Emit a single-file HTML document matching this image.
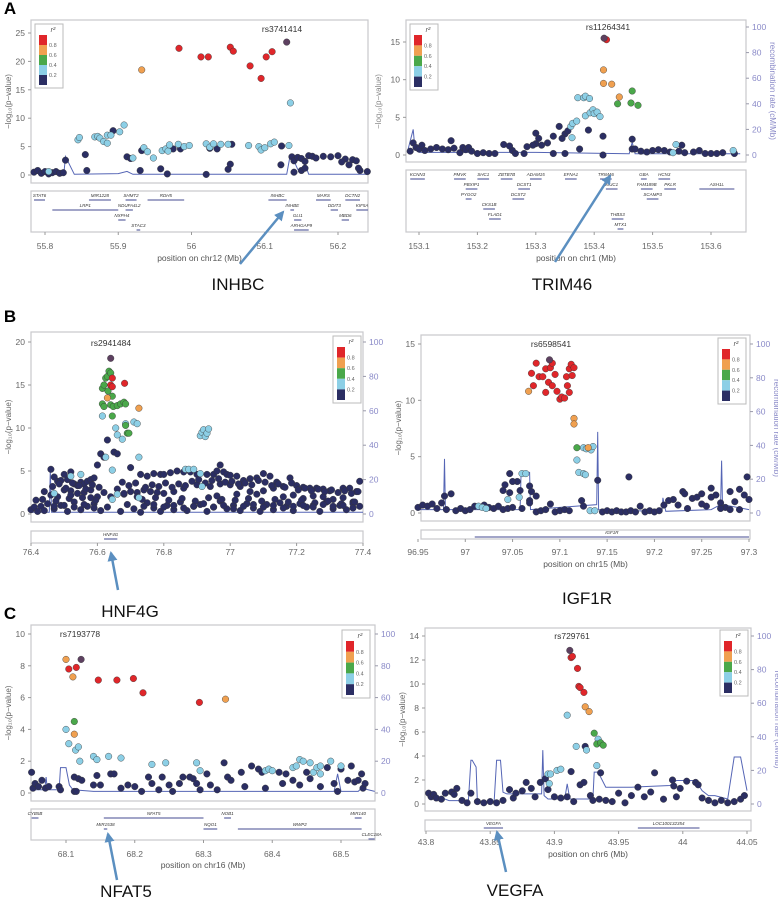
<!DOCTYPE html>
<html><head><meta charset="utf-8">
<style>
html,body{margin:0;padding:0;background:#fff;}
svg{display:block;font-family:"Liberation Sans",sans-serif;}
.big{font-family:"Liberation Sans Narrow","Liberation Sans",sans-serif;}
</style></head>
<body>
<svg id="fig" width="778" height="898" viewBox="0 0 778 898"></svg>
<script>
// ===== Panel A left (chr12) =====
const aL_dark_pos=[55.785,55.79,55.795,55.8,55.805,55.81,55.815,55.82,55.825,55.828,55.855,55.857,55.893,55.912,55.917,55.932,55.93,55.958,55.967,55.975,55.985,56.02,56.025,56.035,56.05,56.053,56.055,56.122,56.123,56.137,56.14,56.145,56.15,56.155,56.16,56.165,56.17,56.18,56.19,56.2,56.21,56.22,56.225,56.23,56.24,56.205,56.215,56.228,56.14,56.15,56.155];
const aL_dark_logp=[0.5,0.8,0.3,0.6,0.2,0.4,0.6,0.3,0.4,2.6,3.6,0.8,7.8,3.2,2.9,4.3,0.8,1.1,0.2,4.6,4.6,0.1,4.7,4.6,1,1.9,5.4,1.8,5.1,3.2,2.5,3.1,2.9,2.4,3.4,3.3,3,3.3,3.2,3.4,2.8,2.7,2.5,0.8,0.6,2.3,1.8,1.2,0.5,0.8,1.2];
const aL_lb_pos=[55.845,55.847,55.868,55.872,55.875,55.88,55.885,55.885,55.89,55.902,55.908,55.92,55.935,55.94,55.948,55.96,55.965,55.968,55.97,55.982,55.99,55.997,56.02,56.025,56.03,56.04,56.05,56.078,56.092,56.095,56.1,56.108,56.113,56.133,56.135,55.805];
const aL_lb_logp=[6.2,6.6,6.7,6.8,6.5,5.9,7,5.6,7,7.6,8.8,3,4.8,4.1,3,4.3,4.6,4.2,5.3,5.4,5,5.2,5.5,4.9,5.5,5.4,5.4,5.2,5,4.4,4.8,5.5,5.8,5.2,12.7,0.6];
const aL_or_pos=[55.932], aL_or_logp=[18.5];
const aL_red_pos=[55.983,56.013,56.023,56.053,56.057,56.08,56.095,56.102,56.11];
const aL_red_logp=[22.3,20.8,20.8,22.5,21.8,19.2,17,20.8,21.7];
const aL_lead_pos=[56.13], aL_lead_logp=[23.4];
const aL_rec_pos=[55.781,55.826,55.828,55.84,55.9,55.912,55.92,56.13,56.134,56.14,56.145,56.15,56.155,56.16,56.241];
const aL_rec_rate=[1,2,13,0.5,1,2.5,0.5,0.5,12,10,4,2,8,0.5,0.5];
const aL_xticks=[55.8,55.9,56,56.1,56.2];
const aL_yticks=[0,5,10,15,20,25];

// ===== Panel A right (chr1) =====
const aR_dark_pos=[153.39,153.415,153.415,153.465,153.465,153.33,153.34,153.35,153.355,153.345,153.32,153.3,153.3,153.305,153.295,153.285,153.31,153.26,153.265,153.28,153.255,153.35,153.375,153.33,153.085,153.09,153.095,153.1,153.105,153.11,153.12,153.13,153.14,153.15,153.155,153.16,153.17,153.175,153.18,153.185,153.19,153.2,153.21,153.22,153.23,153.47,153.48,153.49,153.5,153.51,153.52,153.53,153.545,153.55,153.555,153.57,153.58,153.59,153.6,153.61,153.62,153.64,153.245];
const aR_dark_logp=[3.3,2.5,0,2.1,0.8,2.5,3.8,2.8,3.2,2.2,1.6,2.9,1.5,2.2,1.3,1.1,1.3,0.6,0.2,0.2,1.2,0.2,0.8,0.2,0.5,1.6,1,0.8,1.3,0.6,0.8,1,0.8,0.7,1.9,0.9,0.3,1,0.7,1,0.5,0.2,0.3,0.2,0.2,0.8,0.5,0.4,0.6,0.7,0.6,0.4,0.5,1.3,0.3,0.4,0.6,0.2,0.2,0.2,0.3,0.2,1.4];
const aR_lb_pos=[153.372,153.382,153.385,153.392,153.385,153.393,153.398,153.4,153.405,153.41,153.36,153.363,153.37,153.362,153.54,153.535,153.638];
const aR_lb_logp=[7.6,7.6,7.8,7.5,5.2,5.6,6,5.5,5.7,5.1,3.8,4.2,4.5,2.3,1.4,0.3,0.6];
const aR_gr_pos=[153.465,153.44,153.463,153.475], aR_gr_logp=[8.5,6.8,6.9,6.6];
const aR_or_pos=[153.416,153.416,153.43,153.443], aR_or_logp=[11.3,9.5,9.4,7.7];
const aR_red_pos=[153.421], aR_red_logp=[15.3];
const aR_lead_pos=[153.417], aR_lead_logp=[15.5];
const aR_rec_pos=[153.08,153.09,153.093,153.1,153.3,153.46,153.465,153.47,153.65];
const aR_rec_rate=[2,20,5,2,2,1,10,1,1];
const aR_xticks=[153.1,153.2,153.3,153.4,153.5,153.6];
const aR_yticks=[0,5,10,15];

// ===== Panel B left (HNF4G) =====
const bL_dark_pos=[76.46,76.47,76.48,76.49,76.5,76.51,76.52,76.53,76.54,76.55,76.56,76.57,76.58,76.59,76.6,76.61,76.62,76.63,76.65,76.66,76.7,76.73,76.75,76.77,76.79,76.8,76.82,76.84,76.86,76.88,76.9,76.93,76.95,76.96,76.97,76.98,76.99,77,77.02,77.04,77.06,77.08,77.1,77.12,77.14,77.16,77.18,77.2,77.22,77.24,77.26,77.28,77.3,77.34,77.36,77.38,77.39,
76.46,76.48,76.5,76.52,76.54,76.56,76.58,76.6,76.62,76.66,76.68,76.7,76.72,76.74,76.76,76.78,76.8,76.83,76.86,76.9,76.94,76.97,77,77.03,77.06,77.08,77.1,77.13,77.16,77.19,77.22,77.25,77.28,77.31,77.34,77.37,
76.4,76.41,76.42,76.43,76.44,76.45,76.47,76.49,76.51,76.53,76.55,76.57,76.59,76.61,76.63,76.67,76.69,76.71,76.73,76.75,76.77,76.79,76.81,76.83,76.85,76.87,76.89,76.91,76.93,76.95,76.97,76.99,77.01,77.03,77.05,77.07,77.09,77.11,77.13,77.15,77.17,77.19,77.21,77.23,77.25,77.27,77.29,77.31,77.33,77.35,77.37,77.39,
76.415,76.435,76.475,76.515,76.555,76.595,76.735,76.775,76.815,76.855,76.895,76.935,76.975,77.015,77.055,77.095,77.135,77.175,77.215,77.255,77.295,77.335,77.375];
const bL_dark_logp=[5.2,4.3,3.8,3.9,4.6,4,4.9,3.5,3.3,3.7,3.5,3.8,4,4.2,5.7,7,6.6,8.6,7.2,7,5.4,4.6,4.4,4.7,4.6,4.6,4.8,5,4.9,4.9,4.6,4.6,4.6,5,5.7,4.9,4.6,4.5,4.4,3.9,4.1,4.2,4.7,4.4,3.7,3.2,4.2,3.3,3.1,3,3,2.9,2.7,3,3,2.6,3.8,
2.2,2,2.8,2.7,2.4,2.5,2.8,2,2.5,2.9,2.3,2.6,2.5,2.8,2.6,2.5,2.4,2.6,3,3.4,3.2,3.5,3.4,3.2,2.6,2.3,2.7,3,2,2.2,1.8,2.1,2,1.7,1.9,1.4,
0.5,0.8,0.3,0.9,0.4,1.2,0.6,1,0.3,1.4,0.5,0.9,1.2,0.4,0.8,0.3,1.1,0.6,0.2,1.3,0.7,0.3,1,0.5,1.4,0.4,0.9,1.1,0.3,0.8,1.5,0.6,1,0.4,1.2,0.7,0.3,1.1,0.5,1.3,0.9,0.4,1.2,0.8,1,0.3,1.4,0.6,1,0.5,1.2,0.9,
1.6,1.7,1.5,1.8,1.9,1.6,1.7,1.9,1.6,1.8,1.5,1.9,1.7,1.6,1.8,1.5,1.7,1.4,1.6,1.3,1.5,1.2,1.4];
const bL_dark2_pos=[76.465,76.485,76.505,76.525,76.545,76.565,76.585,76.605,76.675,76.695,76.715,76.745,76.765,76.785,76.805,76.825,76.845,76.865,76.885,76.905,76.925,76.945,76.965,76.985,77.005,77.025,77.045,77.065,77.085,77.105,77.125,77.145,77.165,77.185,77.205,77.225,77.245,77.265,77.285,77.305,77.325,77.345,77.365,77.385,
76.47,76.5,76.53,76.56,76.59,76.74,76.77,76.8,76.83,76.86,76.89,76.92,76.95,76.98,77.01,77.04,77.07,77.1,77.13,77.16,77.19,77.22,77.25,77.28,77.31,77.34,77.37,76.44,76.52,76.58,76.64,76.68,76.72,76.96,77.02];
const bL_dark2_logp=[3.2,3.5,3.0,3.6,3.3,2.9,3.4,3.1,3.7,3.3,3.6,3.1,3.4,3.2,3.6,3.1,3.5,3.3,3.8,4.0,3.6,3.9,4.1,3.7,3.8,3.5,3.6,3.4,3.9,3.7,3.3,3.5,3.1,3.6,2.8,3.0,2.7,2.9,2.6,2.8,2.5,2.7,2.4,2.6,
0.9,1.0,0.8,1.1,0.7,0.9,1.1,0.8,1.0,0.7,0.9,1.2,0.8,1.0,0.6,0.9,1.1,0.8,1.0,0.7,0.9,1.0,0.8,1.1,0.9,1.0,0.7,2.6,2.2,1.9,2.0,2.4,2.0,2.1,2.3];
const bL_lb_pos=[76.615,76.655,76.66,76.675,76.685,76.71,76.72,76.625,76.645,76.725,76.91,76.915,76.92,76.925,76.93,76.935,76.865,76.875,76.89,76.91,76.915,76.52,76.55,76.66,76.645,76.725,76.47];
const bL_lb_logp=[11.4,10,9.2,8.7,10.5,10.7,10.5,6.6,5.1,6.6,9.1,9.5,9.8,9,9.4,9.9,5.2,5.2,5.2,4.7,3.2,4.4,4.6,2.3,1.7,1.9,2.4];
const bL_gr_pos=[76.615,76.62,76.625,76.63,76.635,76.64,76.632,76.615,76.62,76.64,76.648,76.645,76.66,76.67,76.68,76.685,76.645,76.69,76.695,76.685];
const bL_gr_logp=[14.6,15,15.8,16,16.6,16.4,14.3,12.8,12.5,12.7,12.5,13.7,12.6,12.8,13,12.8,11.4,9.4,9.4,10.3];
const bL_or_pos=[76.725,76.63], bL_or_logp=[12.3,13.5];
const bL_red_pos=[76.645,76.64,76.645,76.682], bL_red_logp=[15.8,15,14.8,15.2];
const bL_lead_pos=[76.64], bL_lead_logp=[18.1];
const bL_rec_pos=[76.4,76.455,76.458,76.462,77.4];
const bL_rec_rate=[1,1,25,1,1];
const bL_xticks=[76.4,76.6,76.8,77,77.2,77.4];
const bL_yticks=[0,5,10,15,20];

// ===== Panel B right (IGF1R) =====
const bR_dark_pos=[97.14,97.173,97.298,97.123,97.125,97.055,97.05,97.047,97.042,97.04,97.058,97.068,97.07,97.075,97.068,97.068,97.047,97.09,97.23,97.232,97.24,97.245,97.25,97.26,97.265,97.27,97.28,97.29,97.295,97.285,97.21,97.215,97.22,
96.95,96.955,96.96,96.965,96.97,96.975,96.978,96.98,96.985,96.99,96.995,97,97.005,97.01,97.02,97.025,97.03,97.035,97.04,97.045,97.05,97.06,97.075,97.08,97.085,97.095,97.1,97.105,97.11,97.145,97.15,97.155,97.16,97.165,97.17,97.175,97.18,97.185,97.19,97.195,97.2,97.205,97.225,97.235,97.255,97.275,97.29,97.3,97.27,97.28,97.25,97.26];
const bR_dark_logp=[2.9,3.2,3.2,1.1,0.6,2.8,2.8,3.5,2.5,2,2,2.4,1.9,1.5,1.1,0.9,1.8,0.8,1.9,1.7,1.3,1.4,1.7,2.2,1.6,0.9,1.9,2.1,1.6,1,0.7,1.1,1.2,
0.5,0.7,0.6,0.8,0.4,0.9,1.5,0.3,1.7,0.2,0.4,0.2,0.3,0.6,0.7,0.5,0.4,0.6,0.3,0.4,0.5,0.4,0.1,0.2,0.3,0.1,0.2,0.3,0.2,0.1,0.2,0.1,0.2,0.1,0.1,0.2,0.1,0.6,0.1,0.2,0.1,0.2,0.7,0.4,0.6,0.5,0.3,1.2,0.4,0.3,0.8,1.4];
const bR_lb_pos=[97.125,97.128,97.133,97.135,97.118,97.12,97.125,97.127,97.132,97.137,97.06,97.064,97.045,97.057,97.014,97.018,97.022];
const bR_lb_logp=[5.8,5.7,5.6,5.9,4.7,3.6,3.5,3.4,0.2,0.2,3.5,3.5,1.2,1.4,0.6,0.5,0.4];
const bR_gr_pos=[97.118], bR_gr_logp=[5.8];
const bR_or_pos=[97.067,97.115,97.115,97.13], bR_or_logp=[10.8,8.4,7.9,5.8];
const bR_red_pos=[97.07,97.075,97.078,97.082,97.085,97.09,97.092,97.095,97.072,97.088,97.092,97.097,97.085,97.1,97.102,97.105,97.107,97.11,97.112,97.115,97.113,97.11,97.108];
const bR_red_logp=[12.4,13.3,12.1,12.1,12.8,12.9,13.3,12.3,11.3,11.6,11.3,10.8,10.7,10.1,10.3,10.2,12.1,12.8,13.2,12.9,12.2,10.7,11.3];
const bR_lead_pos=[97.089], bR_lead_logp=[13.6];
const bR_rec_pos=[96.95,96.977,96.978,96.979,97,97.058,97.059,97.068,97.069,97.139,97.14,97.141,97.2,97.208,97.209,97.212,97.26,97.27,97.271,97.272,97.3];
const bR_rec_rate=[2,2,32,2,2,2,24,24,2,5,48,2,1,1,9,1,2,5,31,5,2];
const bR_xticks=[96.95,97,97.05,97.1,97.15,97.2,97.25,97.3];
const bR_yticks=[0,5,10,15];

// ===== Panel C left (NFAT5) =====
const cL_dark_pos=[68.05,68.052,68.055,68.06,68.065,68.07,68.075,68.09,68.092,68.112,68.118,68.123,68.112,68.115,68.14,68.145,68.15,68.165,68.17,68.18,68.19,68.2,68.21,68.22,68.225,68.235,68.24,68.25,68.255,68.265,68.27,68.28,68.285,68.29,68.295,68.305,68.31,68.32,68.33,68.335,68.34,68.355,68.36,68.37,68.38,68.385,68.39,68.41,68.415,68.42,68.43,68.44,68.45,68.455,68.47,68.48,68.49,68.495,68.5,68.51,68.515,68.52,68.525,68.53,68.532,68.535];
const cL_dark_logp=[1.3,0.3,0.6,0.4,0.8,0.3,0.4,0.4,0.2,1,0.9,0.8,0.1,0.1,0.5,1.1,0.5,1.2,1.2,0.3,0.5,0.4,0.1,1,0.6,0.2,1,0.5,0.1,0.6,1,1,0.9,0.6,0.2,1.2,0.5,0.2,1.9,1,0.8,1.3,0.4,1.7,1.5,1.3,0.3,1.3,0.6,1.2,0.8,0.5,1.3,0.9,0.4,1.6,0.6,0.1,1.5,0.8,1.7,0.7,0.8,1.2,0.3,0.6];
const cL_lb_pos=[68.1,68.104,68.114,68.118,68.12,68.14,68.145,68.162,68.18,68.225,68.245,68.29,68.295,68.39,68.395,68.4,68.43,68.435,68.44,68.445,68.455,68.46,68.465,68.47,68.485,68.47,68.5];
const cL_lb_logp=[4,3.1,2.7,2.9,2,2.3,2.1,2.3,2.2,1.8,1.9,1.9,1.4,1.4,1.5,1.4,1.6,1.7,2.1,2,1.9,1.3,1.6,1.7,2,1.2,1.7];
const cL_gr_pos=[68.112], cL_gr_logp=[4.5];
const cL_or_pos=[68.1,68.11,68.332,68.112], cL_or_logp=[8.4,7.3,5.9,3.7];
const cL_red_pos=[68.104,68.115,68.147,68.174,68.198,68.212,68.294], cL_red_logp=[7.8,7.9,7.1,7.1,7.2,6.3,5.7];
const cL_lead_pos=[68.122], cL_lead_logp=[8.4];
const cL_rec_pos=[68.049,68.069,68.071,68.073,68.09,68.092,68.1,68.105,68.11,68.14,68.2,68.3,68.49,68.495,68.5,68.525,68.53,68.549];
const cL_rec_rate=[2,2,10,2,2,16,16,5,2,1,1,1,1,12,1,1,3,1];
const cL_xticks=[68.1,68.2,68.3,68.4,68.5];
const cL_yticks=[0,2,4,6,8,10];

// ===== Panel C right (VEGFA) =====
const cR_dark_pos=[43.802,43.804,43.806,43.808,43.812,43.815,43.82,43.822,43.824,43.828,43.832,43.835,43.84,43.845,43.85,43.855,43.86,43.865,43.868,43.87,43.875,43.878,43.882,43.885,43.889,43.893,43.895,43.9,43.905,43.91,43.915,43.92,43.923,43.928,43.93,43.935,43.94,43.945,43.95,43.955,43.96,43.965,43.97,43.975,43.985,43.992,43.993,43.995,43.998,44.003,44.01,44.012,44.015,44.02,44.025,44.03,44.035,44.04,44.045,44.048,43.924,43.913,43.936,43.978];
const cR_dark_logp=[0.9,0.6,0.8,0.5,0.4,0.9,1,0.8,1.3,0.3,0.1,0.9,0.2,0.1,0.2,0.1,0.3,1.2,0.5,0.9,1.1,1.8,1.3,0.6,1.8,2.1,1.2,0.6,0.5,0.6,0.2,1.6,1.8,0.7,0.3,0.4,0.3,0.2,0.9,0.1,0.7,1.4,0.6,1,0.4,2,1.5,0.6,1.3,1.9,1.8,1.6,0.5,0.3,0.1,0.3,0.1,0.2,0.4,0.7,4.8,2.7,2.6,2.6];
const cR_lb_pos=[43.91,43.934,43.917,43.925,43.933,43.895,43.897,43.902,43.905,43.896];
const cR_lb_logp=[7.4,5.4,4.8,4.5,3.2,2.5,2.5,2.8,2.9,1.7];
const cR_gr_pos=[43.931,43.933,43.936,43.938], cR_gr_logp=[5.9,5,5.1,4.9];
const cR_or_pos=[43.924,43.927], cR_or_logp=[8.1,7.7];
const cR_red_pos=[43.913,43.914,43.918,43.919,43.92,43.923], cR_red_logp=[12.2,12.3,11.3,9.8,9.7,9.3];
const cR_lead_pos=[43.912], cR_lead_logp=[12.8];
const cR_rec_pos=[43.8,43.818,43.833,43.835,43.836,43.839,43.84,43.853,43.855,43.858,43.86,43.863,43.875,43.89,43.891,43.892,43.895,43.908,43.91,43.912,43.93,43.931,43.934,43.94,43.96,43.99,43.995,44.01,44.015,44.02,44.025,44.035,44.04,44.045,44.05];
const cR_rec_rate=[7,2,2,26,26,22,1,1,26,26,7,6,6,6,32,5,3,3,12,3,3,19,19,10,10,11,14,14,8,5,5,3,28,28,8];
const cR_xticks=[43.8,43.85,43.9,43.95,44,44.05];
const cR_yticks=[0,2,4,6,8,10,12,14];

const COLORS=["#2b2e63","#8ccfe6","#4aa84a","#f0a050","#e0262a","#5d4060"];
const NS="http://www.w3.org/2000/svg";
const svg=document.getElementById('fig');
function el(tag,attrs,parent){const e=document.createElementNS(NS,tag);for(const k in attrs)e.setAttribute(k,attrs[k]);(parent||svg).appendChild(e);return e;}
function txt(s,attrs,parent){const t=el('text',attrs,parent);t.textContent=s;return t;}

function panel(cfg,series,recPos,recRate,xticks,yticks){
  const g=el('g',{});
  
  
  const xs=v=>cfg.xa+(v-cfg.va)*(cfg.xb-cfg.xa)/(cfg.vb-cfg.va);
  const ys=v=>cfg.y0+(v)*(cfg.yt-cfg.y0)/cfg.ytv;
  const rs=v=>cfg.y0+(v)*(cfg.rt-cfg.y0)/100;
  const fr=el('rect',{x:cfg.L,y:cfg.T,width:cfg.R-cfg.L,height:cfg.B-cfg.T,fill:'#fff',stroke:'#c8c8cc','stroke-width':1.2},g);
  
  
  yticks.forEach(v=>{
    const y=ys(v);
    el('line',{x1:cfg.L-3,x2:cfg.L,y1:y,y2:y,stroke:'#999'},g);
    const t=txt(String(v),{x:cfg.L-6,y:y+3,'font-size':8.5,'text-anchor':'end',fill:'#666'},g);
    
    
  });
  if(!cfg.noLeftTitle){
    const yl=txt('−log\u2081\u2080(p−value)',{x:0,y:0,'font-size':8,fill:'#666','text-anchor':'middle',transform:`translate(${cfg.L-20},${(cfg.T+cfg.B)/2}) rotate(-90)`},g);
    
    
  }
  if(cfg.rightLogTitle){
    const yr=txt('−log\u2081\u2080(p−value)',{x:0,y:0,'font-size':8,fill:'#888','text-anchor':'middle',transform:`translate(${cfg.R+13},${(cfg.T+cfg.B)/2}) rotate(-90)`},g);
    
    
  }
  if(cfg.rAxis){
    [0,20,40,60,80,100].forEach(v=>{
      const y=rs(v);
      el('line',{x1:cfg.R,x2:cfg.R+3,y1:y,y2:y,stroke:'#99a'},g);
      const t=txt(String(v),{x:cfg.R+6,y:y+3,'font-size':8.5,fill:'#8a8ac8'},g);
      
      
    });
    if(cfg.rTitle){
      const rt=txt('recombination rate (cM/Mb)',{x:0,y:0,'font-size':8,fill:'#8a8ac8','text-anchor':'middle',transform:`translate(${cfg.R+24},${(cfg.T+cfg.B)/2}) rotate(90)`},g);
      
      
    }
  }
  const pts=recPos.map((p,i)=>xs(p).toFixed(1)+','+rs(recRate[i]).toFixed(1)).join(' ');
  const pl=el('polyline',{points:pts,fill:'none',stroke:'#5565b5','stroke-width':1},g);
  
  
  series.forEach(s=>{
    s.pos.forEach((p,i)=>{
      const c=el('circle',{cx:xs(p).toFixed(1),cy:ys(s.logp[i]).toFixed(1),r:3.3,fill:COLORS[s.c],stroke:'#333','stroke-width':0.4},g);
      
      
    });
  });
  const ll=txt(cfg.lead,{x:cfg.leadX,y:cfg.leadY,'font-size':8.5,fill:'#333','text-anchor':'middle'},g);
  
  
  const lg=el('g',{},g);
  
  
  const lx=cfg.lgX, ly=cfg.lgY, lh=cfg.lgH, lw=28;
  el('rect',{x:lx,y:ly,width:lw,height:lh,fill:'#fff',stroke:'#bbb'},lg);
  txt('r²',{x:lx+lw/2+4,y:ly+8,'font-size':7,fill:'#555','text-anchor':'middle','font-style':'italic'},lg);
  const sh=(lh-14)/5;
  [4,3,2,1,0].forEach((ci,k)=>{el('rect',{x:lx+4,y:ly+11+k*sh,width:8,height:sh,fill:COLORS[ci]},lg);});
  ['0.8','0.6','0.4','0.2'].forEach((s,k)=>{txt(s,{x:lx+14,y:ly+11+(k+1)*sh+2,'font-size':5.5,fill:'#666'},lg);});
  const gb=el('rect',{x:cfg.L,y:cfg.gT,width:cfg.R-cfg.L,height:cfg.gB-cfg.gT,fill:'#fff',stroke:'#c8c8cc','stroke-width':1.2},g);
  
  
  cfg.genes.forEach(gn=>{
    const x1=xs(gn[1]), x2=xs(gn[2]);
    el('line',{x1:x1,x2:x2,y1:gn[3]+3,y2:gn[3]+3,stroke:'#6a6fa8','stroke-width':1.3},g);
    const t=txt(gn[0],{x:(x1+x2)/2,y:gn[3],'font-size':4.5,'font-style':'italic',fill:'#333','text-anchor':'middle'},g);
    
    
  });
  xticks.forEach(v=>{
    const x=xs(v);
    el('line',{x1:x,x2:x,y1:cfg.gB,y2:cfg.gB+3,stroke:'#999'},g);
    const t=txt(String(v),{x:x,y:cfg.xtY,'font-size':8.5,fill:'#666','text-anchor':'middle'},g);
    
    
  });
  if(cfg.xlabel){
    const xl=txt(cfg.xlabel,{x:(cfg.L+cfg.R)/2,y:cfg.xlY,'font-size':8.5,fill:'#555','text-anchor':'middle'},g);
    
    
  }
}
function S(pos,logp,c){return {pos,logp,c};}

panel({name:'panel-a-chr12',L:31,R:368,T:20,B:183,xa:45,va:55.8,xb:338,vb:56.2,y0:175,yt:33,ytv:25,rt:33,rAxis:false,rightLogTitle:true,
  lead:'rs3741414',leadX:282,leadY:32,lgX:35,lgY:24,lgH:64,gT:191,gB:232,xtY:249,xlabel:'position on chr12 (Mb)',xlY:261,
  genes:[['STAT6',55.785,55.8,197],['MIR1228',55.86,55.89,197],['SHMT2',55.91,55.925,197],['RDH5',55.94,55.99,197],['LRP1',55.81,55.9,207],['NDUFA4L2',55.91,55.92,207],['NXPH4',55.9,55.91,217],['STAC3',55.925,55.93,227],['INHBC',56.105,56.13,197],['INHBE',56.135,56.14,207],['GLI1',56.14,56.15,217],['ARHGAP9',56.14,56.16,227],['MARS',56.17,56.19,197],['DCTN2',56.21,56.23,197],['DDIT3',56.19,56.2,207],['MBD6',56.205,56.215,217],['KIF5A',56.225,56.241,207]]},
  [S(aL_dark_pos,aL_dark_logp,0),S(aL_lb_pos,aL_lb_logp,1),S(aL_or_pos,aL_or_logp,3),S(aL_red_pos,aL_red_logp,4),S(aL_lead_pos,aL_lead_logp,5)],aL_rec_pos,aL_rec_rate,aL_xticks,aL_yticks);

panel({name:'panel-a-chr1',L:406,R:746,T:20,B:162,xa:419,va:153.1,xb:711,vb:153.6,y0:155,yt:42,ytv:15,rt:27,rAxis:true,rTitle:true,noLeftTitle:true,
  lead:'rs11264341',leadX:608,leadY:30,lgX:410,lgY:24,lgH:66,gT:170,gB:232,xtY:249,xlabel:'position on chr1 (Mb)',xlY:261,
  genes:[['KCNN3',153.085,153.11,176],['PMVK',153.16,153.18,176],['SHC1',153.2,153.22,176],['ZBTB7B',153.24,153.26,176],['ADAM15',153.29,153.31,176],['EFNA1',153.35,153.37,176],['TRIM46',153.41,153.43,176],['GBA',153.48,153.49,176],['HCN3',153.51,153.53,176],['MUC1',153.42,153.44,186],['PBXIP1',153.18,153.2,186],['DCST1',153.27,153.29,186],['FAM189B',153.48,153.5,186],['PKLR',153.52,153.54,186],['PYGO2',153.18,153.19,196],['DCST2',153.26,153.28,196],['SCAMP3',153.49,153.51,196],['CKS1B',153.21,153.23,206],['FLAD1',153.22,153.24,216],['THBS3',153.43,153.45,216],['MTX1',153.44,153.45,226],['ASH1L',153.58,153.64,186]]},
  [S(aR_dark_pos,aR_dark_logp,0),S(aR_lb_pos,aR_lb_logp,1),S(aR_gr_pos,aR_gr_logp,2),S(aR_or_pos,aR_or_logp,3),S(aR_red_pos,aR_red_logp,4),S(aR_lead_pos,aR_lead_logp,5)],aR_rec_pos,aR_rec_rate,aR_xticks,aR_yticks);

panel({name:'panel-b-chr20',L:31,R:363,T:332,B:522,xa:31,va:76.4,xb:363,vb:77.4,y0:514,yt:342,ytv:20,rt:342,rAxis:true,rTitle:false,
  lead:'rs2941484',leadX:111,leadY:346,lgX:333,lgY:336,lgH:67,gT:531,gB:543,xtY:555,xlabel:'',xlY:0,
  genes:[['HNF4G',76.62,76.66,536]]},
  [S(bL_dark_pos,bL_dark_logp,0),S(bL_dark2_pos,bL_dark2_logp,0),S(bL_lb_pos,bL_lb_logp,1),S(bL_gr_pos,bL_gr_logp,2),S(bL_or_pos,bL_or_logp,3),S(bL_red_pos,bL_red_logp,4),S(bL_lead_pos,bL_lead_logp,5)],bL_rec_pos,bL_rec_rate,bL_xticks,bL_yticks);

panel({name:'panel-b-chr15',L:421,R:750,T:335,B:521,xa:418,va:96.95,xb:749,vb:97.3,y0:513,yt:344,ytv:15,rt:344,rAxis:true,rTitle:true,
  lead:'rs6598541',leadX:551,leadY:347,lgX:718,lgY:338,lgH:66,gT:530,gB:539,xtY:555,xlabel:'position on chr15 (Mb)',xlY:567,
  genes:[['IGF1R',97.01,97.3,534]]},
  [S(bR_dark_pos,bR_dark_logp,0),S(bR_lb_pos,bR_lb_logp,1),S(bR_gr_pos,bR_gr_logp,2),S(bR_or_pos,bR_or_logp,3),S(bR_red_pos,bR_red_logp,4),S(bR_lead_pos,bR_lead_logp,5)],bR_rec_pos,bR_rec_rate,bR_xticks,bR_yticks);

panel({name:'panel-c-chr16',L:31,R:375,T:625,B:801,xa:66,va:68.1,xb:341,vb:68.5,y0:793,yt:634,ytv:10,rt:634,rAxis:true,rTitle:false,
  lead:'rs7193778',leadX:80,leadY:637,lgX:342,lgY:630,lgH:68,gT:809,gB:840,xtY:857,xlabel:'position on chr16 (Mb)',xlY:868,
  genes:[['CYB5B',68.05,68.06,815],['NFAT5',68.155,68.3,815],['NOB1',68.33,68.34,815],['WWP2',68.35,68.53,826],['NQO1',68.3,68.32,826],['MIR1538',68.155,68.16,826],['MIR140',68.52,68.53,815],['CLEC18A',68.54,68.549,836]]},
  [S(cL_dark_pos,cL_dark_logp,0),S(cL_lb_pos,cL_lb_logp,1),S(cL_gr_pos,cL_gr_logp,2),S(cL_or_pos,cL_or_logp,3),S(cL_red_pos,cL_red_logp,4),S(cL_lead_pos,cL_lead_logp,5)],cL_rec_pos,cL_rec_rate,cL_xticks,cL_yticks);

panel({name:'panel-c-chr6',L:425,R:751,T:628,B:811,xa:426,va:43.8,xb:747,vb:44.05,y0:804,yt:636,ytv:14,rt:636,rAxis:true,rTitle:true,
  lead:'rs729761',leadX:572,leadY:639,lgX:720,lgY:630,lgH:66,gT:820,gB:831,xtY:845,xlabel:'position on chr6 (Mb)',xlY:857,
  genes:[['VEGFA',43.845,43.86,825],['LOC100132354',43.965,44.013,825]]},
  [S(cR_dark_pos,cR_dark_logp,0),S(cR_lb_pos,cR_lb_logp,1),S(cR_gr_pos,cR_gr_logp,2),S(cR_or_pos,cR_or_logp,3),S(cR_red_pos,cR_red_logp,4),S(cR_lead_pos,cR_lead_logp,5)],cR_rec_pos,cR_rec_rate,cR_xticks,cR_yticks);

[['A',10,14],['B',10,322],['C',10,619]].forEach(p=>{
  const t=txt(p[0],{x:p[1],y:p[2],'font-size':17,'font-weight':'bold','text-anchor':'middle',fill:'#000'});
  
  
});
[['INHBC',238,290],['TRIM46',562,290],['HNF4G',130,617],['IGF1R',587,604],['NFAT5',126,897],['VEGFA',515,896]].forEach(p=>{
  const t=txt(p[0],{x:p[1],y:p[2],'font-size':17,'text-anchor':'middle',fill:'#111',class:'big'});
  
  
});
const defs=el('defs',{});
const mk=el('marker',{id:'ah',viewBox:'0 0 10 10',refX:8,refY:5,markerWidth:4,markerHeight:4,orient:'auto'},defs);
el('path',{d:'M0,0 L10,5 L0,10 z',fill:'#5b8fc0'},mk);
[[240,264,283,212],[555,262,610,176],[118,590,111,553],[117,880,108,834],[506,872,497,832]].forEach(a=>{
  const l=el('line',{x1:a[0],y1:a[1],x2:a[2],y2:a[3],stroke:'#5b8fc0','stroke-width':2.5,'marker-end':'url(#ah)'});
  
  
});
</script>
</body></html>
